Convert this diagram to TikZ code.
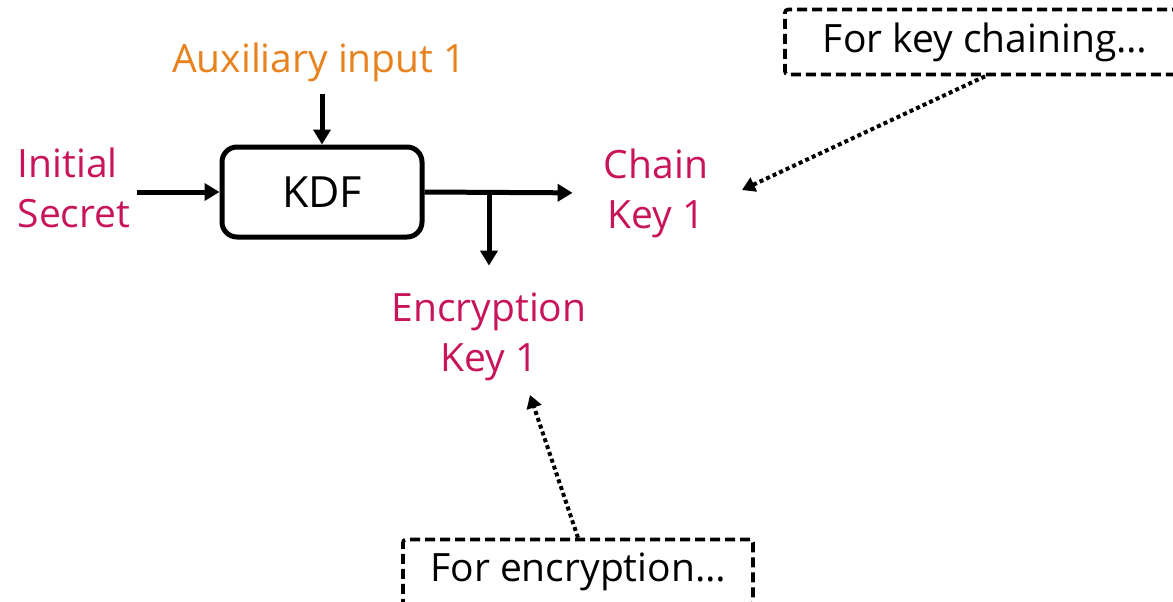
\documentclass[tikz,border=0pt]{standalone}
\usepackage{fontspec}
\setmainfont{Open Sans}
\usetikzlibrary{arrows.meta}
\definecolor{keypink}{RGB}{200,20,90}
\definecolor{auxorange}{RGB}{232,130,30}

\begin{document}
\begin{tikzpicture}[x=0.5pt, y=0.5pt,
  lbl/.style={align=center, inner sep=3pt, font=\fontsize{19.5}{25}\selectfont},
  flow/.style={line width=2.5pt, -{Triangle[length=7.5pt,width=8.5pt]}},
  hint/.style={line width=2pt, dash pattern=on 2pt off 1.6pt, -{Triangle[length=6.5pt,width=7.5pt]}},
  note/.style={lbl, draw, line width=1.8pt, dash pattern=on 5pt off 2.5pt, rounded corners=1.5pt, minimum height=32.5pt}]
\clip (0,0) rectangle (1173,-601);

\node[lbl, draw, line width=2.5pt, rounded corners=7.5pt, minimum width=100pt, minimum height=45pt, font=\fontsize{21.5}{25}\selectfont] (kdf) at (322,-192) {KDF};
\node[lbl, text=auxorange] (aux) at (319,-62) {Auxiliary input 1};
\node[lbl, text=keypink, align=left] (init) at (74,-188) {Initial\\Secret};
\node[lbl, text=keypink] (chain) at (656,-193) {Chain\\Key 1};
\node[lbl, text=keypink] (enc) at (489,-337) {Encryption\\Key 1};

\node[note, minimum width=200pt] (notechain) at (985,-42) {For key chaining…};
\node[note, minimum width=175pt] (noteenc) at (578,-572) {For encryption…};

\coordinate (split) at (489,-192);
\coordinate (chaintip) at (742,-190);
\coordinate (enctip) at (530,-395);

\draw[flow, shorten <=3pt] (aux.south -| kdf.north) -- (kdf.north);
\draw[flow] (init.east |- kdf.west) -- (kdf.west);
\draw[flow, shorten >=12.5pt] (kdf.east) -- (chain.west);
\draw[flow, shorten >=10.5pt] (split) -- (enc.north);

\draw[hint] (notechain.south) -- (chaintip);
\draw[hint] (noteenc.north) -- (enctip);

\end{tikzpicture}
\end{document}
